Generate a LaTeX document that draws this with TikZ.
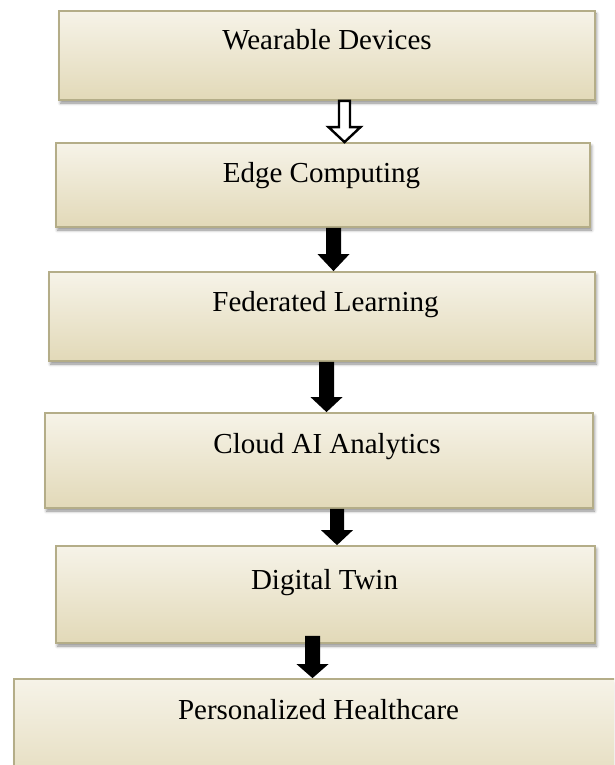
\documentclass[tikz,border=0pt]{standalone}
\usepackage{fontspec}
\setmainfont{Liberation Serif}
\usetikzlibrary{calc,shadows.blur}

\definecolor{boxtop}{HTML}{F6F3E8}
\definecolor{boxbot}{HTML}{E2D9B8}
\definecolor{boxedge}{HTML}{B4AD88}

% block arrow from a start point down to a tip point
\newcommand\blockarrow[5]{%
  \draw[#1] ($(#2)+(-#4,0)$) -- ($(#3)+(-#4,-#5)$) -- ($(#3)+(-16,-#5)$)
    -- (#3) -- ($(#3)+(16,-#5)$) -- ($(#3)+(#4,-#5)$) -- ($(#2)+(#4,0)$) -- cycle;}

\begin{document}
\begin{tikzpicture}[x=1pt,y=-1pt,
  box/.style={draw=boxedge, line width=1.8pt, top color=boxtop, bottom color=boxbot,
    inner sep=0pt,
    blur shadow={shadow xshift=1.5pt, shadow yshift=-3pt, shadow blur radius=3pt,
      shadow opacity=45}},
  lbl/.style={font=\fontsize{29}{31}\selectfont, anchor=base, inner sep=0pt},
  solidarrow/.style={fill=black, draw=none},
  hollowarrow/.style={fill=white, draw=black, line width=2.4pt, line join=miter}]

\useasboundingbox (0,0) rectangle (614,765);
\clip (0,0) rectangle (614,765);

% stages
\node[box, minimum width=536, minimum height=89] (b1) at (327,55.5) {};
\node[box, minimum width=534, minimum height=84] (b2) at (323,185) {};
\node[box, minimum width=546, minimum height=89] (b3) at (322,316.5) {};
\node[box, minimum width=548, minimum height=95] (b4) at (319,460.5) {};
\node[box, minimum width=539, minimum height=97] (b5) at (325.5,594.5) {};
\node[box, minimum width=626, minimum height=121] (b6) at (327,739.5) {};

% labels
\node[lbl] (t1) at (327,50) {Wearable Devices};
\node[lbl] (t2) at (321.5,182) {Edge Computing};
\node[lbl] (t3) at (325.5,311) {Federated Learning};
\node[lbl] (t4) at (327,453) {Cloud AI Analytics};
\node[lbl] (t5) at (324.5,589) {Digital Twin};
\node[lbl] (t6) at (318.5,719) {Personalized Healthcare};

% arrow axes
\coordinate (x1) at (344.5,0);
\coordinate (x2) at (333.5,0);
\coordinate (x3) at (326.5,0);
\coordinate (x4) at (337,0);
\coordinate (x5) at (312.5,0);

\coordinate (s1) at (b1.south -| x1); \coordinate (e1) at (b2.north -| x1);
\coordinate (s2) at (b2.south -| x2); \coordinate (e2) at (b3.north -| x2);
\coordinate (s3) at (b3.south -| x3); \coordinate (e3) at (b4.north -| x3);
\coordinate (s4) at (b4.south -| x4); \coordinate (e4) at (b5.north -| x4);
\coordinate (s5) at ($(b5.south -| x5)+(0,-8)$); \coordinate (e5) at (b6.north -| x5);

% connectors
\blockarrow{hollowarrow}{s1}{e1}{5.5}{15}
\blockarrow{solidarrow}{s2}{e2}{7.5}{17}
\blockarrow{solidarrow}{s3}{e3}{7.5}{15}
\blockarrow{solidarrow}{s4}{e4}{7}{15}
\blockarrow{solidarrow}{s5}{e5}{7.5}{14}
\end{tikzpicture}
\end{document}
